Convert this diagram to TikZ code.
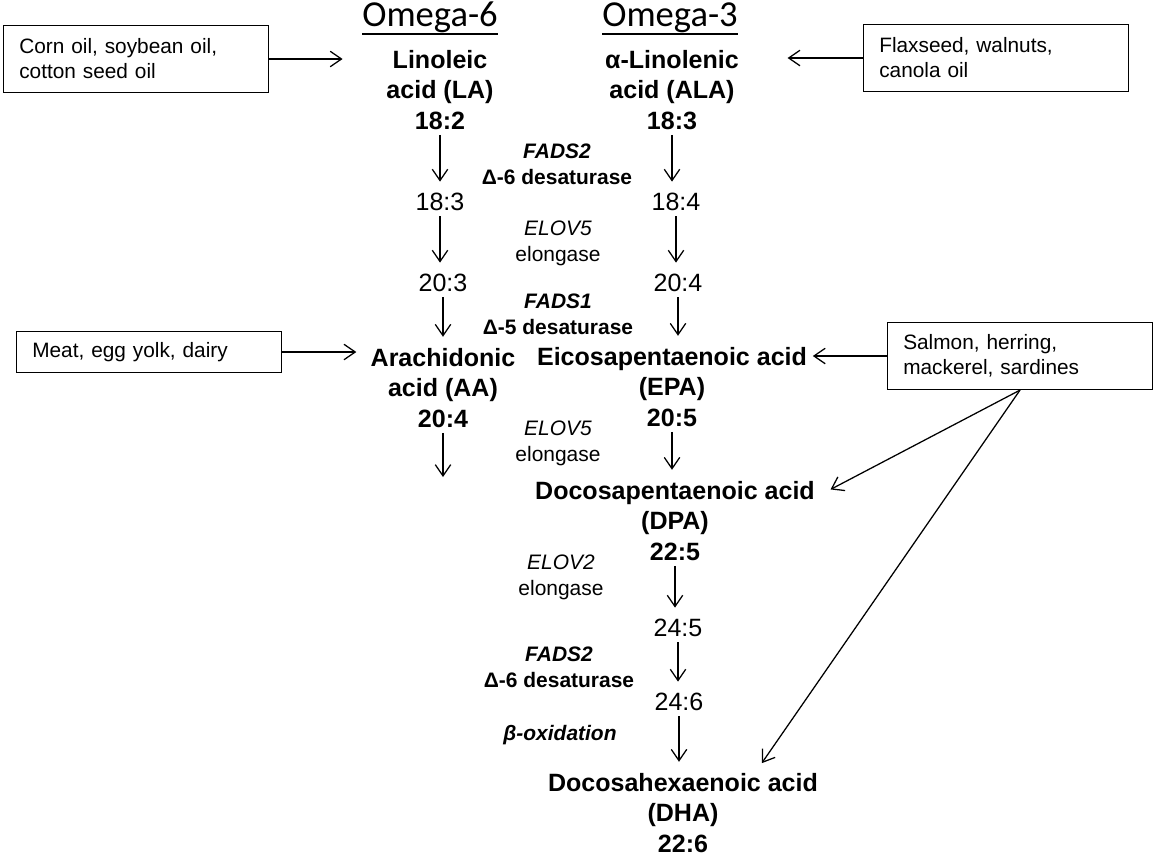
\documentclass[tikz,border=0pt]{standalone}
\usepackage{fontspec}
\setmainfont{Liberation Sans}
\newfontfamily\omegafont{Carlito}
\usetikzlibrary{arrows.meta}

\begin{document}
\begin{tikzpicture}[x=0.025cm,y=-0.025cm,
sourcenode/.style={rectangle, draw, line width=0.8pt, inner xsep=11.4pt, inner ysep=0pt, text width=166pt, align=left, minimum height=47.7pt, font=\fontsize{14.8}{17.8}\selectfont},
acidnode/.style={inner sep=0pt, align=center, anchor=north, font=\bfseries\fontsize{17.8}{21.7}\selectfont},
numnode/.style={inner sep=0pt, font=\fontsize{17.8}{21.7}\selectfont},
enzymenode/.style={inner sep=0pt, align=center, anchor=north, font=\fontsize{14.9}{18.5}\selectfont},
omeganode/.style={inner sep=0pt, anchor=base, font=\omegafont\fontsize{26}{30}\selectfont},
step arrow/.style={-{Straight Barb[length=8pt,width=11pt]}, line width=0.9pt, shorten <=3.5pt, shorten >=8pt},
food arrow/.style={-{Straight Barb[length=8pt,width=11pt]}, line width=0.9pt}
]
\useasboundingbox (0,0) rectangle (1158,858);

%Nodes
\node[omeganode] at (430,26) (om6) {Omega-6};
\node[omeganode] at (670,26) (om3) {Omega-3};

\node[acidnode] at (440,50) (LA) {Linoleic\\acid (LA)\\18:2};
\node[acidnode] at (672,50) (ALA) {α-Linolenic\\acid (ALA)\\18:3};
\node[numnode] at (440,202) (n6-183) {18:3};
\node[numnode] at (443,283) (n6-203) {20:3};
\node[acidnode] at (443,348) (AA) {Arachidonic\\acid (AA)\\20:4};
\coordinate (AA-out) at (443,477);

\node[numnode] at (676,202) (n3-184) {18:4};
\node[numnode] at (678,283) (n3-204) {20:4};
\node[acidnode] at (672,347) (EPA) {Eicosapentaenoic acid\\(EPA)\\20:5};
\node[acidnode] at (675,481) (DPA) {Docosapentaenoic acid\\(DPA)\\22:5};
\node[numnode] at (678,628) (n3-245) {24:5};
\node[numnode] at (679,702) (n3-246) {24:6};
\node[acidnode] at (683,773) (DHA) {Docosahexaenoic acid\\(DHA)\\22:6};

\node[enzymenode] at (557,144) (fads2-a) {{\bfseries\itshape FADS2}\\{\bfseries Δ-6 desaturase}};
\node[enzymenode] at (558,221) (elov5-a) {{\itshape ELOV5}\\elongase};
\node[enzymenode] at (558,294) (fads1) {{\bfseries\itshape FADS1}\\{\bfseries Δ-5 desaturase}};
\node[enzymenode] at (558,421) (elov5-b) {{\itshape ELOV5}\\elongase};
\node[enzymenode] at (561,555) (elov2) {{\itshape ELOV2}\\elongase};
\node[enzymenode] at (559,647) (fads2-b) {{\bfseries\itshape FADS2}\\{\bfseries Δ-6 desaturase}};
\node[enzymenode, anchor=base] at (560,740) (betaox) {\bfseries\itshape β-oxidation};

\node[sourcenode] at (136,59) (corn) {Corn oil, soybean oil,\\cotton seed oil};
\node[sourcenode] at (996,58) (flax) {Flaxseed, walnuts,\\canola oil};
\node[sourcenode, minimum height=29.2pt] at (149,352) (meat) {Meat, egg yolk, dairy};
\node[sourcenode] at (1020,356) (fish) {Salmon, herring,\\mackerel, sardines};

%Lines
\draw[line width=1.2pt] ([yshift=-1.2pt]om6.south west) -- ([yshift=-1.2pt]om6.south east);
\draw[line width=1.2pt] ([yshift=-1.2pt]om3.south west) -- ([yshift=-1.2pt]om3.south east);

\draw[step arrow] (LA.south) -- (LA.south |- n6-183.north);
\draw[step arrow] (n6-183.south) -- (n6-183.south |- n6-203.north);
\draw[step arrow] (n6-203.south) -- (n6-203.south |- AA.north);
\draw[step arrow, shorten >=0pt] (AA.south) -- (AA-out);

\draw[step arrow] (ALA.south) -- (ALA.south |- n3-184.north);
\draw[step arrow] (n3-184.south) -- (n3-184.south |- n3-204.north);
\draw[step arrow] (n3-204.south) -- (n3-204.south |- EPA.north);
\draw[step arrow] (EPA.south) -- (EPA.south |- DPA.north);
\draw[step arrow] (DPA.south) -- (DPA.south |- n3-245.north);
\draw[step arrow] (n3-245.south) -- (n3-245.south |- n3-246.north);
\draw[step arrow] (n3-246.south) -- (n3-246.south |- DHA.north);

\draw[food arrow, shorten >=31pt] (corn.east) -- (corn.east -| LA.west);
\draw[food arrow, shorten >=34.5pt] (flax.west) -- (flax.west -| ALA.east);
\draw[food arrow, shorten >=10pt] (meat.east) -- (meat.east -| AA.west);
\draw[food arrow, shorten >=4pt] (fish.west) -- (fish.west -| EPA.east);
\draw[food arrow] (fish.south) -- ([xshift=11pt,yshift=-6pt]DPA.north east);
\draw[food arrow] (fish.south) -- ([xshift=56pt,yshift=7pt]DHA.north);

\end{tikzpicture}
\end{document}
